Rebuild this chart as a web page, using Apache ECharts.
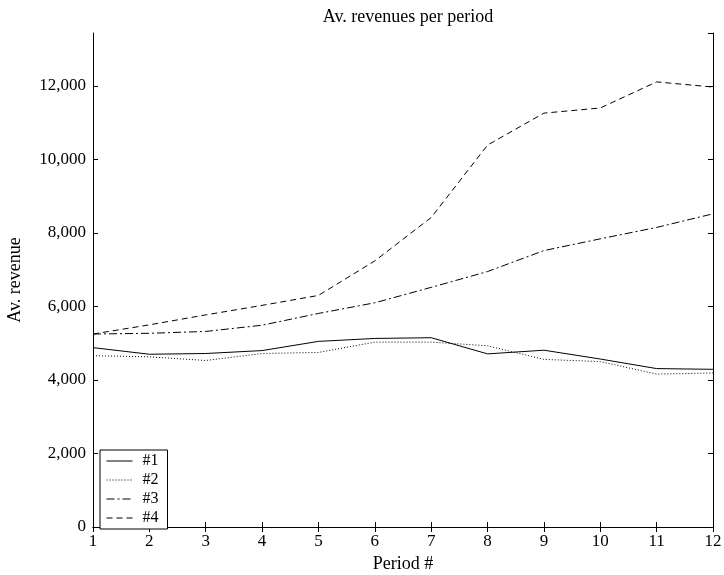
<!DOCTYPE html>
<html>
<head>
<meta charset="utf-8">
<title>Av. revenues per period</title>
<script src="https://cdn.jsdelivr.net/npm/echarts@6/dist/echarts.min.js"></script>
<style>
  html, body { margin: 0; padding: 0; background: #fff; }
  #chart { width: 724px; height: 575px; }
</style>
</head>
<body>
<div id="chart"></div>
<script>
// Periods on the x axis
const periods = [1, 2, 3, 4, 5, 6, 7, 8, 9, 10, 11, 12];

// Average revenue per period for each scenario
const rev1 = [4880, 4700, 4720, 4800, 5050, 5130, 5150, 4710, 4810, 4570, 4310, 4290];
const rev2 = [4660, 4630, 4530, 4720, 4750, 5030, 5030, 4930, 4560, 4500, 4160, 4190];
const rev3 = [5250, 5270, 5320, 5490, 5810, 6100, 6520, 6950, 7520, 7840, 8150, 8520];
const rev4 = [5250, 5500, 5770, 6030, 6300, 7240, 8420, 10390, 11260, 11400, 12110, 11970];

const seriesNames = ['#1', '#2', '#3', '#4'];
const seriesValues = [rev1, rev2, rev3, rev4];
const dashes = ['solid', [1, 2], [8, 3, 2, 3], [6, 4]];

const serif = '"Liberation Serif", "DejaVu Serif", serif';

const fmt = v => v.toLocaleString('en-US');

const chart = echarts.init(document.getElementById('chart'));

const axisLine = { show: true, lineStyle: { color: '#000', width: 1 } };
const tickIn = { show: true, inside: true, length: 5, lineStyle: { color: '#000' } };

chart.setOption({
  backgroundColor: '#fff',
  animation: false,
  title: {
    text: 'Av. revenues per period',
    left: 403,
    textAlign: 'center',
    top: 3,
    textStyle: { fontFamily: serif, fontSize: 18, fontWeight: 'normal', color: '#000' }
  },
  grid: { left: 93, right: 11, top: 33, bottom: 48, containLabel: false, outerBoundsMode: 'none' },
  legend: {
    orient: 'vertical',
    left: 100,
    top: 450,
    data: seriesNames,
    itemWidth: 26,
    itemHeight: 14,
    itemGap: 3,
    padding: [3, 9, 3, 6],
    borderColor: '#000',
    borderWidth: 1,
    backgroundColor: '#fff',
    itemStyle: { opacity: 0 },
    lineStyle: { width: 1 },
    textStyle: { fontFamily: serif, fontSize: 16, color: '#000', padding: [0, 0, 0, 5] }
  },
  xAxis: [
    {
      type: 'value',
      min: 1, max: 12, interval: 1,
      name: 'Period #',
      nameLocation: 'middle',
      nameGap: 27,
      nameTextStyle: { fontFamily: serif, fontSize: 18, color: '#000' },
      axisLine, axisTick: tickIn,
      axisLabel: { fontFamily: serif, fontSize: 17, color: '#000', margin: 6 },
      splitLine: { show: false }
    },
    {
      type: 'value', position: 'top',
      min: 1, max: 12, interval: 1,
      axisLine, axisTick: tickIn,
      axisLabel: { show: false },
      splitLine: { show: false }
    }
  ],
  yAxis: [
    {
      type: 'value',
      min: 0, max: 13440, interval: 2000,
      name: 'Av. revenue',
      nameLocation: 'middle',
      nameGap: 69,
      nameTextStyle: { fontFamily: serif, fontSize: 18, color: '#000' },
      axisLine, axisTick: tickIn,
      axisLabel: { fontFamily: serif, fontSize: 17, color: '#000', margin: 7, showMaxLabel: false, formatter: fmt },
      splitLine: { show: false }
    },
    {
      type: 'value', position: 'right',
      min: 0, max: 13440, interval: 2000,
      axisLine, axisTick: tickIn,
      axisLabel: { show: false },
      splitLine: { show: false }
    }
  ],
  series: seriesNames.map((name, i) => ({
    name,
    type: 'line',
    xAxisIndex: 0,
    yAxisIndex: 0,
    symbol: 'none',
    data: periods.map((p, j) => [p, seriesValues[i][j]]),
    lineStyle: { color: '#000', width: 1, type: dashes[i] },
    itemStyle: { color: '#000' }
  }))
});
</script>
</body>
</html>
